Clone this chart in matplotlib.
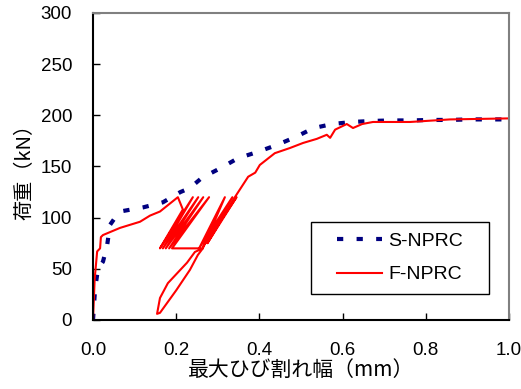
import matplotlib.pyplot as plt
from matplotlib.patches import Rectangle

plt.rcParams['font.family'] = ['Liberation Sans', 'Noto Sans CJK JP']

# S-NPRC (ひび割れ幅 mm, 荷重 kN)
s_w = [0.0, 0.005, 0.012, 0.024, 0.034, 0.041, 0.06, 0.072, 0.12, 0.168, 0.21,
       0.233, 0.262, 0.307, 0.348, 0.394, 0.442, 0.488, 0.53, 0.575, 0.623,
       0.67, 0.716, 0.765, 0.81, 0.858, 0.904, 0.95, 1.0]
s_p = [0, 30, 50, 57, 73, 93, 104, 106.5, 110, 115, 125,
       129, 139, 148.5, 158, 164, 171, 179, 187.5, 191.5, 193.5,
       194.5, 195, 195, 195.5, 195.5, 196, 196, 196]

# F-NPRC
f_w = [0.0, 0.004, 0.01, 0.017, 0.019, 0.024, 0.065, 0.113, 0.137, 0.161, 0.204, 0.216,
       0.161, 0.24, 0.168, 0.253, 0.175, 0.265, 0.183, 0.279, 0.19, 0.264,
       0.245, 0.226, 0.18, 0.161, 0.154, 0.161, 0.2, 0.233, 0.252, 0.264,
       0.317, 0.255, 0.335, 0.265, 0.345, 0.275,
       0.341, 0.373, 0.39, 0.401, 0.437, 0.473, 0.505, 0.538, 0.562, 0.57, 0.582,
       0.61, 0.625, 0.647, 0.673, 0.762, 0.858, 1.0]
f_p = [0, 40, 67, 70, 81, 83, 90, 96, 102, 106, 120, 108,
       70, 120, 70, 120, 70, 120, 70, 120, 70, 70,
       66.5, 56, 36, 21.5, 6, 7, 29, 49, 63.5, 70,
       120, 70, 120, 72, 120, 75,
       120, 140, 144, 151.5, 163, 168, 173, 177, 181, 178, 186,
       191.5, 187.6, 191.5, 193.5, 193.5, 196, 197]

fig = plt.figure(figsize=(5.21, 3.89), dpi=100)
ax = fig.add_axes([0.1785, 0.1774, 0.7985, 0.7892])

ax.plot(s_w, s_p, color='#000080', lw=3, dashes=(1.5, 3.2), label='S-NPRC')
ax.plot(f_w, f_p, color='#ff0000', lw=1.5, label='F-NPRC')

ax.set_xlim(0, 1.0)
ax.set_ylim(0, 300)
ax.set_xticks([0, 0.2, 0.4, 0.6, 0.8, 1.0])
ax.set_xticklabels(['0.0', '0.2', '0.4', '0.6', '0.8', '1.0'])
ax.set_yticks(range(0, 301, 50))
ax.tick_params(direction='in', length=5, width=1, labelsize=13.5)
ax.tick_params(axis='x', pad=16)
ax.tick_params(axis='y', pad=15)

for s in ['left', 'bottom']:
    ax.spines[s].set_color('black')
    ax.spines[s].set_linewidth(1.5)
for s in ['top', 'right']:
    ax.spines[s].set_color('#808080')
    ax.spines[s].set_linewidth(1.5)

ax.set_xlabel('最大ひび割れ幅（mm）', fontsize=15, family=['Noto Sans CJK JP'], labelpad=0)
ax.set_ylabel('荷重（kN）', fontsize=14.5, family=['Noto Sans CJK JP'], labelpad=4)

# 凡例の枠
box = Rectangle((0.524, 0.0847), 0.428, 0.234, transform=ax.transAxes,
                facecolor='white', edgecolor='black', lw=1.0, zorder=4)
ax.add_patch(box)
leg = ax.legend(loc='center', bbox_to_anchor=(0.738, 0.202), borderaxespad=0,
                fontsize=14, frameon=False, handlelength=2.3, labelspacing=0.8,
                handletextpad=0.35)
leg.set_zorder(5)

fig.savefig('out.png')
